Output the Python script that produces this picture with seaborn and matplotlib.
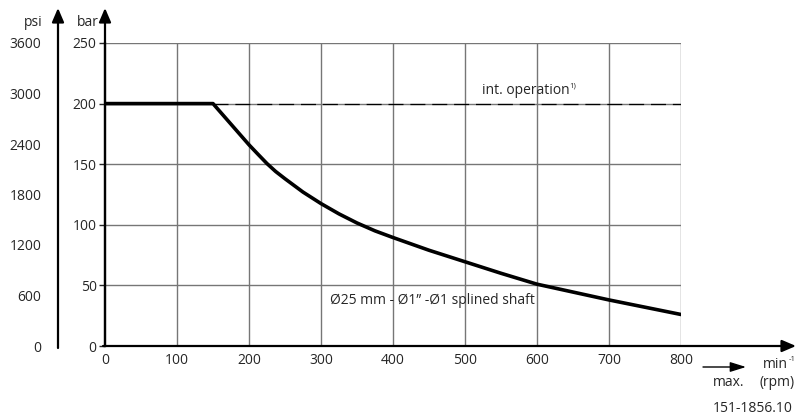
import matplotlib
matplotlib.use("Agg")
import matplotlib.pyplot as plt
import pandas as pd
import seaborn as sns

# pressure curve for the shaft (bar vs. speed)
speed_rpm = [0, 150, 175, 200, 212, 225, 237, 250, 275, 300, 325, 350, 375,
             400, 450, 500, 550, 600, 700, 800]
pressure_bar = [200, 200, 183, 166, 158.5, 150.5, 144, 138, 127, 117.5, 109,
                101.5, 95, 89.5, 79, 69.5, 60, 51, 38, 26]

# intermittent operation limit
int_speed = [150, 800]
int_pressure = [200, 200]

x_ticks = [0, 100, 200, 300, 400, 500, 600, 700, 800]
bar_ticks = [0, 50, 100, 150, 200, 250]
psi_ticks = [0, 600, 1200, 1800, 2400, 3000, 3600]

curve_label = "Ø25 mm - Ø1” -Ø1 splined shaft"
int_label = "int. operation"
fig_code = "151-1856.10"

sns.set_theme(style="white")
FONT = ["Open Sans", "DejaVu Sans"]
plt.rcParams["font.family"] = FONT
FS = 10

W, H = 798, 418
fig = plt.figure(figsize=(W / 100, H / 100), dpi=100)


def fx(px):
    return px / W


def fy(py):
    return 1 - py / H


ax = fig.add_axes([fx(105), fy(346), fx(681) - fx(105), fy(43) - fy(346)])
ax.set_xlim(0, 800)
ax.set_ylim(0, 250)

df = pd.DataFrame({"rpm": speed_rpm, "bar": pressure_bar})
df_int = pd.DataFrame({"rpm": int_speed, "bar": int_pressure})

for v in x_ticks[1:]:
    ax.axvline(v, color="#767676", lw=1.0, zorder=1)
for v in bar_ticks[1:]:
    ax.axhline(v, color="#767676", lw=1.0, zorder=1)

sns.lineplot(data=df_int, x="rpm", y="bar", ax=ax, color="black", lw=0.9,
             zorder=2)
ax.lines[-1].set_dashes((12, 5.5))
sns.lineplot(data=df, x="rpm", y="bar", ax=ax, color="black", lw=2.6, zorder=3)
ax.lines[-1].set_solid_joinstyle("round")

for s in ["top", "right", "bottom"]:
    ax.spines[s].set_visible(False)
ax.spines["left"].set_linewidth(1.6)
ax.spines["left"].set_color("black")
ax.set_xticks(x_ticks)
ax.set_yticks(bar_ticks)
ax.set_xticklabels([str(v) for v in x_ticks])
ax.set_yticklabels([str(v) for v in bar_ticks])
ax.tick_params(axis="y", direction="out", length=4, width=1, pad=2,
               labelsize=FS, left=True)
ax.tick_params(axis="x", length=0, pad=5, labelsize=FS)
ax.set_xlabel("")
ax.set_ylabel("")

# axis arrows
arrow = dict(arrowstyle="-|>,head_length=0.7,head_width=0.3", lw=1.6,
             color="black", shrinkA=0, shrinkB=0)
ax.annotate("", xy=(fx(796), fy(346)), xytext=(fx(103), fy(346)),
            xycoords="figure fraction", arrowprops=arrow)
ax.annotate("", xy=(fx(105), fy(8)), xytext=(fx(105), fy(346)),
            xycoords="figure fraction", arrowprops=arrow)

# psi axis
ax2 = fig.add_axes([fx(58), fy(346), 0.0001, fy(43) - fy(346)])
ax2.set_ylim(0, 3600)
ax2.set_xticks([])
ax2.set_yticks(psi_ticks)
ax2.set_yticklabels([str(v) for v in psi_ticks])
ax2.tick_params(axis="y", direction="inout", length=6, width=1, pad=9,
                labelsize=FS)
for s in ["top", "right", "bottom", "left"]:
    ax2.spines[s].set_visible(False)
ax2.patch.set_visible(False)
ax.annotate("", xy=(fx(58), fy(8)), xytext=(fx(58), fy(348)),
            xycoords="figure fraction", arrowprops=arrow)

# labels
fig.text(fx(43), fy(22), "psi", ha="right", va="center", fontsize=FS)
fig.text(fx(99), fy(23), "bar", ha="right", va="center", fontsize=FS)

t = fig.text(fx(482), fy(90), int_label, ha="left", va="center", fontsize=FS)
ax.annotate("1)", xy=(1, 0.75), xycoords=t, xytext=(0, 0),
            textcoords="offset points", ha="left", va="center", fontsize=5.5)
fig.text(fx(432), fy(300), curve_label, ha="center", va="center", fontsize=FS)

small = dict(arrowstyle="-|>,head_length=0.8,head_width=0.25", lw=1.0,
             color="black", shrinkA=0, shrinkB=0)
ax.annotate("", xy=(fx(746), fy(367)), xytext=(fx(703), fy(367)),
            xycoords="figure fraction", arrowprops=small)
fig.text(fx(713), fy(382), "max.", ha="left", va="center", fontsize=FS)
m = fig.text(fx(763), fy(364), "min", ha="left", va="center", fontsize=FS)
ax.annotate("-1", xy=(1, 0.8), xycoords=m, xytext=(0.5, 0),
            textcoords="offset points", ha="left", va="center", fontsize=5.5)
fig.text(fx(760), fy(383), "(rpm)", ha="left", va="center", fontsize=FS)
fig.text(fx(793), fy(409), fig_code, ha="right", va="center", fontsize=FS)

fig.savefig("out.png", dpi=100)
